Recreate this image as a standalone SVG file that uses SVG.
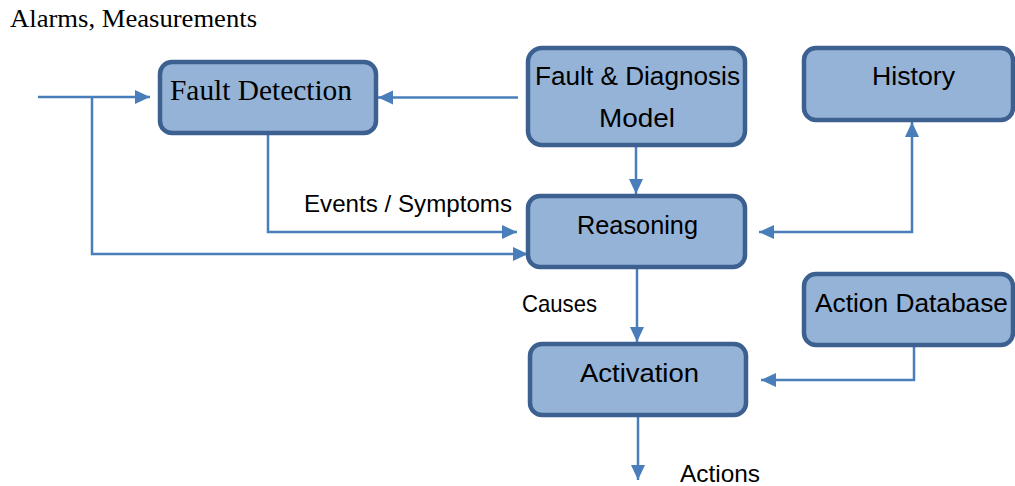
<svg xmlns="http://www.w3.org/2000/svg" width="1015" height="486" viewBox="0 0 1015 486">
<style>
.box{fill:#95b3d7;stroke:#3c6191;stroke-width:4.5}
.con{fill:none;stroke:#4a7ebb;stroke-width:2.5}
.sans{font-family:"Liberation Sans",Arial,sans-serif;fill:#000}
.serif{font-family:"Liberation Serif","Times New Roman",serif;fill:#000}
.bt{font-size:26.5px}
.lt{font-size:24px}
</style>
<defs>
<marker id="arr" markerUnits="userSpaceOnUse" markerWidth="16" markerHeight="15" refX="15" refY="7" orient="auto-start-reverse" viewBox="0 0 16 15">
<path d="M0,0 L15,7 L0,14 z" fill="#4a7ebb"/>
</marker>
</defs>
<rect width="1015" height="486" fill="#fff"/>
<text class="serif" x="10" y="27" font-size="25" textLength="247" lengthAdjust="spacingAndGlyphs">Alarms, Measurements</text>
<g id="connectors">
<path class="con" d="M38,97 H150" marker-end="url(#arr)"/>
<path class="con" d="M92,97 V254 H528" marker-end="url(#arr)"/>
<path class="con" d="M518,97.5 H378" marker-end="url(#arr)"/>
<path class="con" d="M268,135 V232 H517" marker-end="url(#arr)"/>
<path class="con" d="M636,147 V194" marker-end="url(#arr)"/>
<path class="con" d="M759,232 H912 V122" marker-start="url(#arr)" marker-end="url(#arr)"/>
<path class="con" d="M637,269 V342" marker-end="url(#arr)"/>
<path class="con" d="M914,347 V380 H761" marker-end="url(#arr)"/>
<path class="con" d="M638,417 V480" marker-end="url(#arr)"/>
</g>
<g id="fault-detection">
<rect class="box" x="160" y="62" width="216" height="71" rx="12"/>
<text class="serif" x="170" y="100" font-size="29" textLength="182" lengthAdjust="spacingAndGlyphs">Fault Detection</text>
</g>
<g id="fault-diagnosis-model">
<rect class="box" x="528" y="48" width="217" height="97" rx="14"/>
<text class="sans bt" x="535" y="85" textLength="205" lengthAdjust="spacingAndGlyphs">Fault &amp; Diagnosis</text>
<text class="sans bt" x="599" y="127" textLength="76" lengthAdjust="spacingAndGlyphs">Model</text>
</g>
<g id="history">
<rect class="box" x="804" y="48" width="209" height="72" rx="12"/>
<text class="sans bt" x="872" y="85" textLength="83" lengthAdjust="spacingAndGlyphs">History</text>
</g>
<g id="reasoning">
<rect class="box" x="528" y="196" width="217" height="71" rx="12"/>
<text class="sans bt" x="577" y="234" textLength="121" lengthAdjust="spacingAndGlyphs">Reasoning</text>
</g>
<g id="activation">
<rect class="box" x="530" y="344" width="216" height="71" rx="12"/>
<text class="sans bt" x="580" y="382" textLength="119" lengthAdjust="spacingAndGlyphs">Activation</text>
</g>
<g id="action-database">
<rect class="box" x="804" y="274" width="209" height="71" rx="12"/>
<text class="sans bt" x="815" y="312" textLength="193" lengthAdjust="spacingAndGlyphs">Action Database</text>
</g>
<text class="sans lt" x="304" y="212" textLength="208" lengthAdjust="spacingAndGlyphs">Events / Symptoms</text>
<text class="sans lt" x="522" y="312" textLength="75" lengthAdjust="spacingAndGlyphs">Causes</text>
<text class="sans lt" x="680" y="482" textLength="80" lengthAdjust="spacingAndGlyphs">Actions</text>
</svg>
